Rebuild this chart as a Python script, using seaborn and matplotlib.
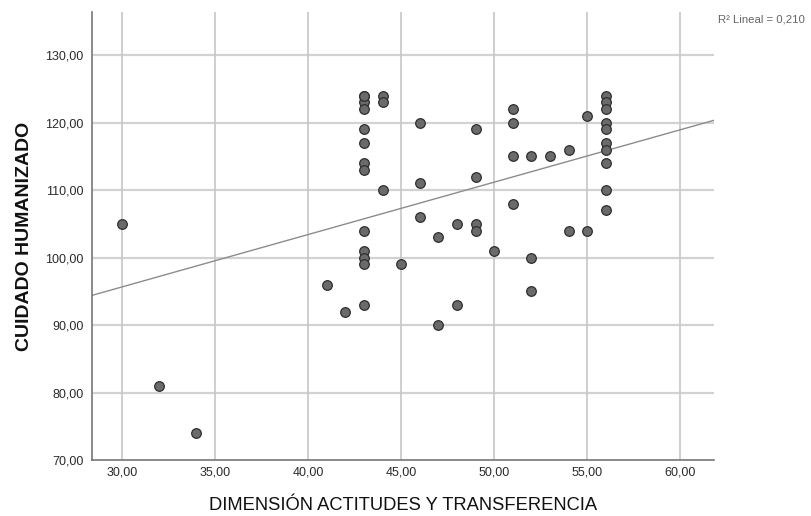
import numpy as np
import pandas as pd
import matplotlib
matplotlib.use("Agg")
import matplotlib.pyplot as plt
from matplotlib.ticker import FuncFormatter
import seaborn as sns

# Data
actitudes = [30, 32, 34, 41, 42,
             43, 43, 43, 43, 43, 43, 43, 43, 43, 43, 43, 43, 43,
             44, 44, 44, 45, 46, 46, 46, 47, 47, 48, 48,
             49, 49, 49, 49, 50, 51, 51, 51, 51, 52, 52, 52, 53,
             54, 54, 55, 55,
             56, 56, 56, 56, 56, 56, 56, 56, 56, 56]
cuidado = [105, 81, 74, 96, 92,
           124, 123, 122, 119, 117, 114, 113, 104, 101, 100, 99, 93, 124,
           124, 123, 110, 99, 120, 111, 106, 103, 90, 105, 93,
           119, 112, 105, 104, 101, 122, 120, 115, 108, 115, 100, 95, 115,
           116, 104, 121, 104,
           124, 123, 122, 120, 119, 117, 116, 114, 110, 107]
x_ticks = [30, 35, 40, 45, 50, 55, 60]
y_ticks = [70, 80, 90, 100, 110, 120, 130]
r2_label = "R² Lineal = 0,210"

df = pd.DataFrame({"x": actitudes, "y": cuidado})

sns.set_theme(style="white")
plt.rcParams['font.family'] = ['Liberation Sans', 'DejaVu Sans']

fig = plt.figure(figsize=(8.12, 5.16), dpi=100)
ax = fig.add_axes([92/812, 1-460/516, (714-92)/812, (460-12)/516])

ax.set_xlim(28.4, 61.8)
ax.set_ylim(70, 136.4)
ax.set_xticks(x_ticks)
ax.set_yticks(y_ticks)
for v in y_ticks[1:]:
    ax.axhline(v, color="#d2d2d2", lw=1.6, zorder=0)
for v in x_ticks:
    ax.axvline(v, color="#c6c6c6", lw=1.2, zorder=0)

sns.regplot(data=df, x="x", y="y", ax=ax, ci=None, truncate=False,
            scatter_kws=dict(s=48, color="#6a6a6a", edgecolor="#2e2e2e",
                             linewidths=0.9, alpha=1, zorder=3),
            line_kws=dict(color="#8c8c8c", lw=1.0, zorder=2))

fmt = FuncFormatter(lambda v, p: f"{v:.2f}".replace(".", ","))
ax.xaxis.set_major_formatter(fmt)
ax.yaxis.set_major_formatter(fmt)
ax.tick_params(axis="both", length=0, labelsize=9, colors="#2a2a2a")
ax.tick_params(axis="x", pad=5)
ax.tick_params(axis="y", pad=6)

for s in ["top", "right"]:
    ax.spines[s].set_visible(False)
for s in ["left", "bottom"]:
    ax.spines[s].set_color("#777777")
    ax.spines[s].set_linewidth(1.2)

ax.set_xlabel("DIMENSIÓN ACTITUDES Y TRANSFERENCIA", fontsize=13.2,
              color="#111111", labelpad=13)
ax.set_ylabel("CUIDADO HUMANIZADO", fontsize=14, fontweight="bold",
              color="#111111", labelpad=9)

fig.text(718/812, 1-20/516, r2_label, fontsize=8.2, color="#666666",
         ha="left", va="center")

fig.savefig("out.png", dpi=100)
